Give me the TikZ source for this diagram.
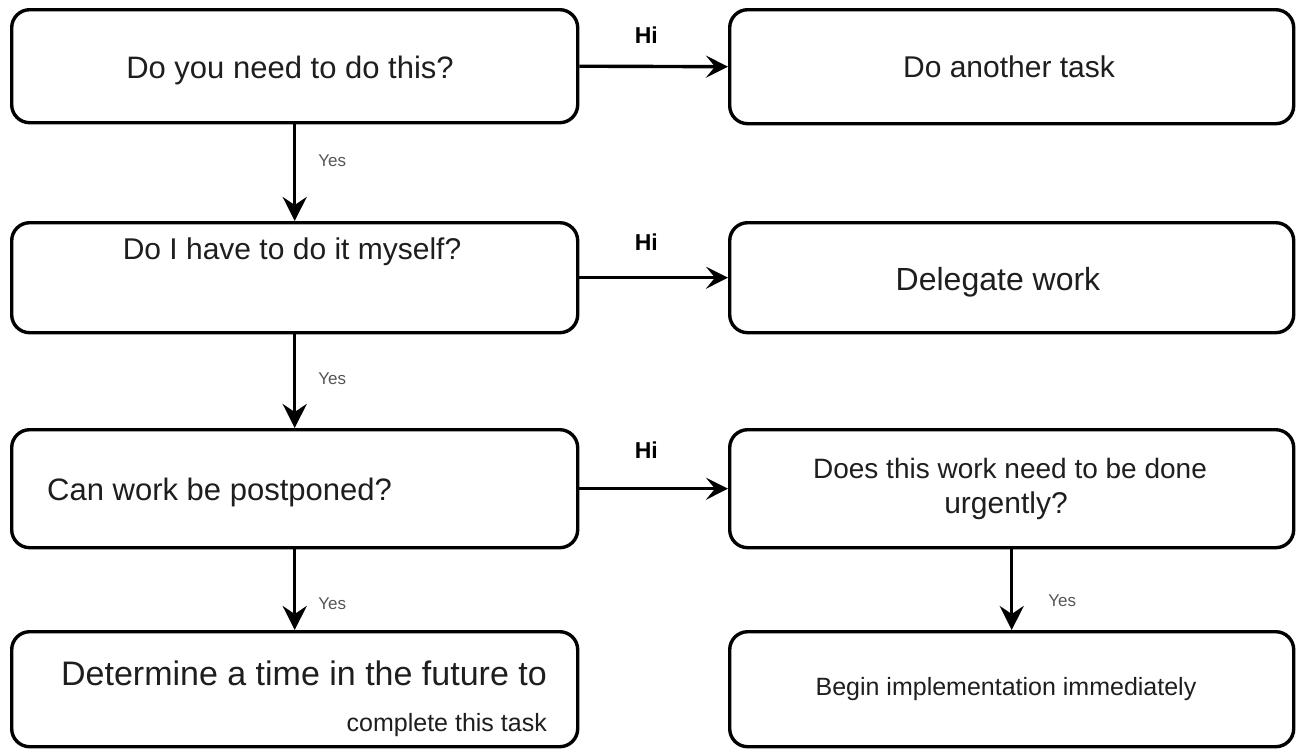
\documentclass[tikz,border=0pt]{standalone}
\usepackage{fontspec}
\setmainfont{Liberation Sans}
\usetikzlibrary{arrows.meta}
\definecolor{ink}{HTML}{1E1E1E}
\definecolor{note}{HTML}{555555}

\begin{document}
\begin{tikzpicture}[x=1pt,y=-1pt,
  box/.style={draw=black, line width=3.4pt, rounded corners=18pt, fill=white,
              anchor=north west, inner sep=0pt},
  flow/.style={line width=3.4pt, -{Stealth[length=24pt,width=24pt,inset=8pt]}},
  side/.style={line width=3.4pt, -{Stealth[length=22pt,width=22pt,inset=9pt]}},
  txt/.style={text=ink, inner sep=0pt, anchor=base},
  hi/.style={font=\fontsize{23}{27}\bfseries\selectfont, text=black, inner sep=0pt, anchor=base},
  yes/.style={font=\fontsize{17}{20}\selectfont, text=note, inner sep=0pt, anchor=base west},
]
\useasboundingbox (0,0) rectangle (1300,750);

% question boxes (left column)
\node[box, minimum width=566pt, minimum height=113pt] (q1) at (10,8) {};
\node[box, minimum width=566pt, minimum height=110pt] (q2) at (10,221) {};
\node[box, minimum width=566pt, minimum height=118pt] (q3) at (10,428) {};
\node[box, minimum width=566pt, minimum height=115pt] (q4) at (10,630) {};

% outcome boxes (right column)
\node[box, minimum width=564pt, minimum height=114pt] (r1) at (728,8) {};
\node[box, minimum width=564pt, minimum height=110pt] (r2) at (728,221) {};
\node[box, minimum width=564pt, minimum height=118pt] (r3) at (728,428) {};
\node[box, minimum width=564pt, minimum height=115pt] (r4) at (728,630) {};

% box texts
\node[txt, font=\fontsize{31}{37}\selectfont] (t1) at (290,78) {Do you need to do this?};
\node[txt, font=\fontsize{30}{36}\selectfont] (t2) at (292,259) {Do I have to do it myself?};
\node[txt, font=\fontsize{31}{37}\selectfont, anchor=base west] (t3) at (47,500) {Can work be postponed?};
\node[txt, font=\fontsize{34}{40}\selectfont, anchor=base east] (t4a) at (547,685) {Determine a time in the future to};
\node[txt, font=\fontsize{25}{30}\selectfont, anchor=base east] (t4b) at (547,731) {complete this task};

\node[txt, font=\fontsize{30}{36}\selectfont] (u1) at (1009,77) {Do another task};
\node[txt, font=\fontsize{32}{38}\selectfont] (u2) at (998,290) {Delegate work};
\node[txt, font=\fontsize{28}{34}\selectfont] (u3a) at (1010,478) {Does this work need to be done};
\node[txt, font=\fontsize{30}{36}\selectfont] (u3b) at (1006,513) {urgently?};
\node[txt, font=\fontsize{25}{30}\selectfont] (u4) at (1006,695) {Begin implementation immediately};

% connectors
\draw[side] (q1.east) -- node[hi, pos=0.45, yshift=23pt] {Hi} (r1.west);
\draw[side] (q2.east) -- node[hi, pos=0.45, yshift=27pt] {Hi} (r2.west);
\draw[side] (q3.east) -- node[hi, pos=0.45, yshift=30pt] {Hi} (r3.west);

\draw[flow] (q1.south) -- node[yes, pos=0.44, xshift=22pt] {Yes} (q2.north);
\draw[flow] (q2.south) -- node[yes, pos=0.53, xshift=22pt] {Yes} (q3.north);
\draw[flow] (q3.south) -- node[yes, pos=0.75, xshift=22pt] {Yes} (q4.north);
\draw[flow] (r3.south) -- node[yes, pos=0.71, xshift=35pt] {Yes} (r4.north);
\end{tikzpicture}
\end{document}
